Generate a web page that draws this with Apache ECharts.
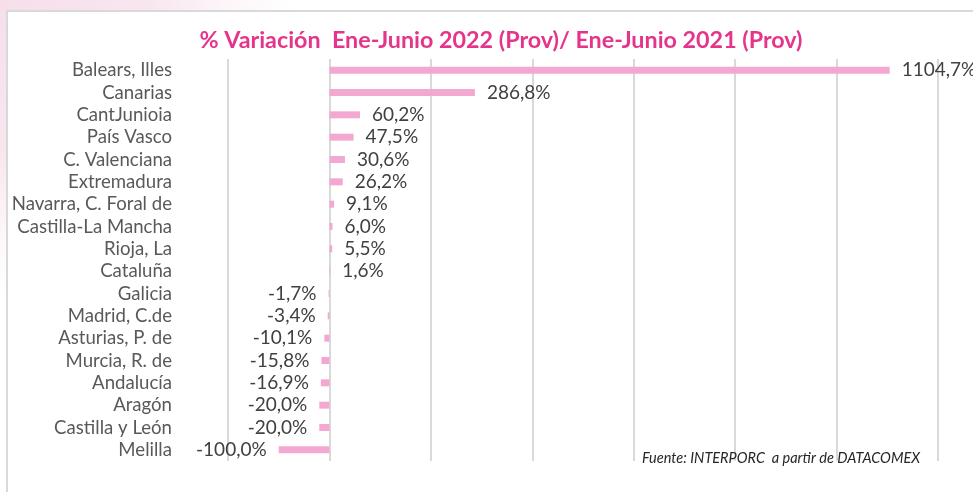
<!DOCTYPE html>
<html>
<head>
<meta charset="utf-8">
<script src="https://cdn.jsdelivr.net/npm/echarts@6/dist/echarts.min.js"></script>
<style>
  html, body { margin: 0; padding: 0; background: #ffffff; }
  #chart { width: 973px; height: 492px; }
</style>
</head>
<body>
<div id="chart"></div>
<script>
// Regions, top to bottom
const regions = [
  'Balears, Illes', 'Canarias', 'CantJunioia', 'País Vasco', 'C. Valenciana',
  'Extremadura', 'Navarra, C. Foral de', 'Castilla-La Mancha', 'Rioja, La',
  'Cataluña', 'Galicia', 'Madrid, C.de', 'Asturias, P. de', 'Murcia, R. de',
  'Andalucía', 'Aragón', 'Castilla y León', 'Melilla'
];
// % change Jan-Jun 2022 vs Jan-Jun 2021
const variation = [
  1104.7, 286.8, 60.2, 47.5, 30.6, 26.2, 9.1, 6.0, 5.5, 1.6,
  -1.7, -3.4, -10.1, -15.8, -16.9, -20.0, -20.0, -100.0
];
const titleText = '% Variación  Ene-Junio 2022 (Prov)/ Ene-Junio 2021 (Prov)';
const sourceText = 'Fuente: INTERPORC  a partir de DATACOMEX';

const fmt = v => v.toFixed(1).replace('.', ',') + '%';
const FONT = 'Lato';

const chart = echarts.init(document.getElementById('chart'), null, { renderer: 'canvas' });

chart.setOption({
  backgroundColor: {
    type: 'radial', x: 0, y: 0, r: 0.6,
    colorStops: [
      { offset: 0, color: '#f6dfeb' },
      { offset: 0.5, color: '#f8e6ef' },
      { offset: 0.8, color: '#fdf7fa' },
      { offset: 1, color: '#ffffff' }
    ]
  },
  animation: false,
  graphic: [
    {
      type: 'rect', z: -10, silent: true,
      shape: { x: 7, y: 11, width: 980, height: 500 },
      style: { fill: '#ffffff', stroke: '#d9d9d9', lineWidth: 2 }
    },
    {
      type: 'text', left: 642, top: 451, z: 10,
      style: { text: sourceText, fill: '#262626', font: 'italic 14.5px ' + FONT }
    }
  ],
  title: {
    text: titleText,
    left: 496, top: 24, textAlign: 'center',
    textStyle: { color: '#e5348c', fontFamily: FONT, fontWeight: 'bold', fontSize: 23.3 }
  },
  grid: { left: 228, top: 59, width: 710, height: 402, containLabel: false },
  xAxis: {
    type: 'value', min: -200, max: 1200, interval: 200,
    axisLine: { show: false }, axisTick: { show: false },
    axisLabel: { show: false },
    splitLine: { lineStyle: { color: '#d9d9d9', width: 2 } }
  },
  yAxis: {
    type: 'category', data: regions, inverse: true,
    axisLine: { show: false }, axisTick: { show: false },
    axisLabel: { interval: 0, margin: 56, color: '#595959', fontFamily: FONT, fontSize: 18.6 }
  },
  series: [{
    type: 'bar',
    data: variation.map(v => ({
      value: v,
      label: { position: v < 0 ? 'left' : 'right' }
    })),
    barWidth: 7,
    itemStyle: { color: '#f3a8d1' },
    label: {
      show: true, distance: 12,
      color: '#404040', fontFamily: FONT, fontSize: 19,
      formatter: p => fmt(p.value)
    }
  }]
});
</script>
</body>
</html>
